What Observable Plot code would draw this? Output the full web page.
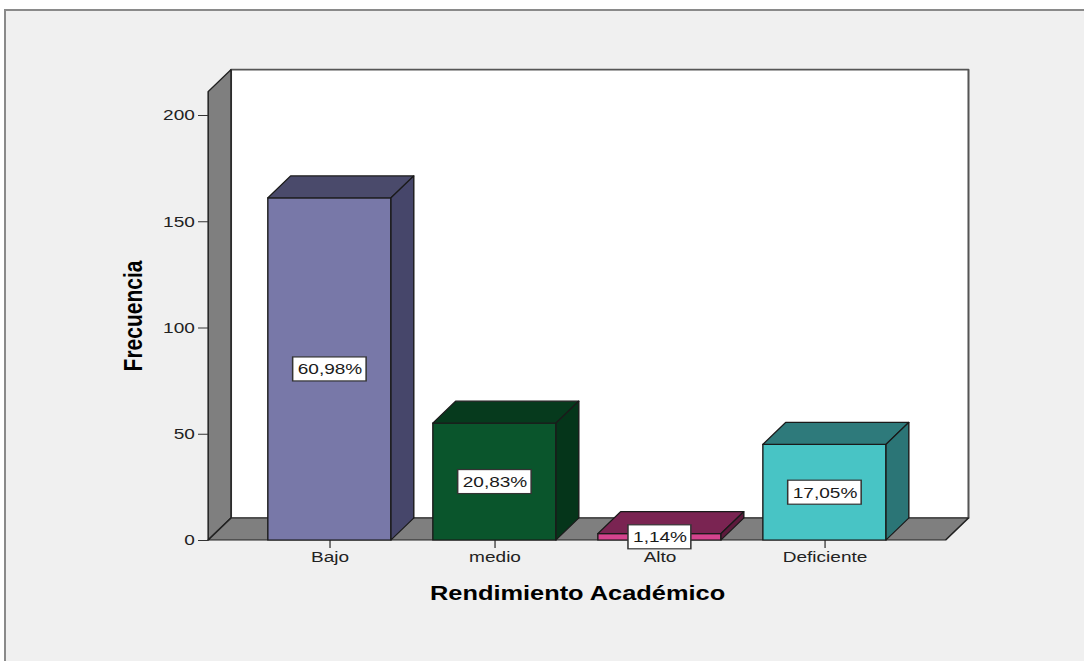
<!DOCTYPE html>
<html><head><meta charset="utf-8">
<script src="https://cdn.jsdelivr.net/npm/d3@7"></script>
<script src="https://cdn.jsdelivr.net/npm/@observablehq/plot@0.6"></script>
<style>
html,body{margin:0;padding:0;background:#fff;width:1084px;height:661px;overflow:hidden;}
#panel{position:absolute;left:4px;top:9px;width:1084px;height:661px;background:#f0f0f0;border-left:2px solid #8a8a8a;border-top:2px solid #8a8a8a;}
#chart{position:absolute;left:0;top:0;}
</style></head><body>
<div id="panel"></div><div id="chart"></div>
<script>
// ---- data ----
const categories = ["Bajo", "medio", "Alto", "Deficiente"];
const frequencies = [161, 55, 3, 45];
const percentLabels = ["60,98%", "20,83%", "1,14%", "17,05%"];
const yTicks = [0, 50, 100, 150, 200];
const yTitle = "Frecuencia";
const xTitle = "Rendimiento Académico";

// ---- styles ----
const frontColors = ["#7878a8", "#0a552c", "#d4448e", "#48c4c5"];
const topColors   = ["#4a4a6b", "#063a1d", "#7a2452", "#2e7a7b"];
const sideColors  = ["#46466a", "#05351a", "#5c1a3c", "#2b7576"];
const wallTop = 211;          // axis-wall extent (value units)
const DX = 18, DY = 22;       // 3D depth offset in px
const W = 854, H = 661;       // drawn in a horizontally stretched frame

const rows = categories.map((c, i) => ({cat: c, freq: frequencies[i], label: percentLabels[i], front: frontColors[i]}));

function poly(g, pts, fill, stroke, sw) {
  g.append("polygon").attr("points", pts.map(p => p.join(",")).join(" "))
    .attr("fill", fill).attr("stroke", stroke).attr("stroke-width", sw);
}

function walls(index, scales, values, dim) {
  const xa = dim.marginLeft, xb = dim.width - dim.marginRight;
  const y0 = scales.y(0), yt = scales.y(wallTop);
  const g = d3.create("svg:g").attr("stroke-linejoin", "round");
  poly(g, [[xa + DX, yt - DY], [xb + DX, yt - DY], [xb + DX, y0 - DY], [xa + DX, y0 - DY]], "#ffffff", "#555", 1.6);
  poly(g, [[xa, y0], [xa, yt], [xa + DX, yt - DY], [xa + DX, y0 - DY]], "#7f7f7f", "#222", 1.2);
  poly(g, [[xa, y0], [xb, y0], [xb + DX, y0 - DY], [xa + DX, y0 - DY]], "#7f7f7f", "#222", 1.2);
  return g.node();
}

function faces3d(index, scales, values, dimensions, context, next) {
  const g = next(index, scales, values, dimensions, context);
  const bw = scales.x.bandwidth();
  const y0 = scales.y(0);
  const extra = d3.create("svg:g").attr("stroke-linejoin", "round");
  for (const i of index) {
    const x0 = scales.x(categories[i]), x1 = x0 + bw, yt = scales.y(frequencies[i]);
    poly(extra, [[x0, yt], [x1, yt], [x1 + DX, yt - DY], [x0 + DX, yt - DY]], topColors[i], "#1a1a1a", 1.1);
    poly(extra, [[x1, yt], [x1 + DX, yt - DY], [x1 + DX, y0 - DY], [x1, y0]], sideColors[i], "#1a1a1a", 1.1);
  }
  g.appendChild(extra.node());
  return g;
}

function boxed(index, scales, values, dimensions, context, next) {
  const g = next(index, scales, values, dimensions, context);
  const ctx = document.createElement("canvas").getContext("2d");
  ctx.font = "15px 'Liberation Sans'";
  const bw = scales.x.bandwidth();
  const wrap = d3.create("svg:g");
  const boxes = wrap.append("g").attr("fill", "#fff").attr("stroke", "#333").attr("stroke-width", 1.2);
  for (const i of index) {
    const cx = scales.x(categories[i]) + bw / 2, cy = scales.y(frequencies[i] / 2);
    const w = ctx.measureText(percentLabels[i]).width + 7, h = 24;
    boxes.append("rect").attr("x", cx - w / 2).attr("y", cy - h / 2).attr("width", w).attr("height", h);
  }
  wrap.node().appendChild(g);
  return wrap.node();
}

const chart = Plot.plot({
  width: W, height: H,
  marginLeft: 164, marginRight: W - 745, marginTop: 115, marginBottom: 121,
  style: {fontFamily: "'Liberation Sans', Arial, sans-serif", background: "transparent", color: "#222"},
  x: {type: "band", domain: categories, paddingInner: 0.253, paddingOuter: 0.3475, label: null},
  y: {domain: [0, 200], label: null},
  marks: [
    Plot.frame({render: walls}),
    Plot.axisY({ticks: yTicks, tickSize: 8, tickPadding: 3, fontSize: 15, label: null, stroke: "#333"}),
    Plot.axisX({tickSize: 8, tickPadding: 3, fontSize: 15, label: null, stroke: "#333"}),
    Plot.barY(rows, {x: "cat", y: "freq", fill: "front", stroke: "#1a1a1a", strokeWidth: 1.1, render: faces3d}),
    Plot.text(rows, {x: "cat", y: d => d.freq / 2, text: "label", fontSize: 15, fill: "#1a1a1a", render: boxed}),
    Plot.text([yTitle], {frameAnchor: "left", textAnchor: "middle", lineAnchor: "middle", rotate: -90,
      dx: -59, dy: -12, fontSize: 21, fontWeight: "bold", fill: "#000"}),
    Plot.text([xTitle], {frameAnchor: "bottom", textAnchor: "middle", lineAnchor: "middle",
      dy: 53, fontSize: 20, fontWeight: "bold", fill: "#000"})
  ]
});
chart.setAttribute("width", 1084);
chart.setAttribute("height", H);
chart.setAttribute("preserveAspectRatio", "none");
chart.style.width = "1084px";
chart.style.height = H + "px";
chart.style.maxWidth = "none";
document.getElementById("chart").appendChild(chart);
</script>
</body></html>
